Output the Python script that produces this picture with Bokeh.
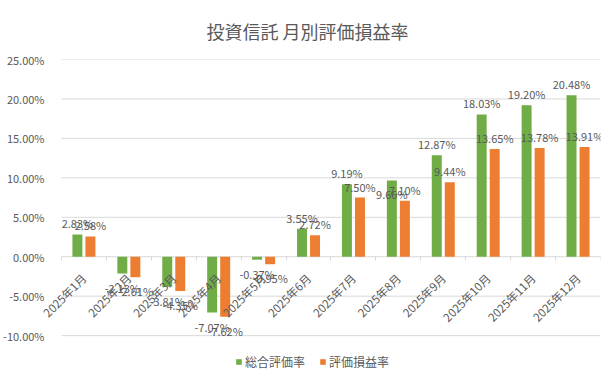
from math import pi
from bokeh.plotting import figure
from bokeh.models import (Range1d, FixedTicker, PrintfTickFormatter, ColumnDataSource,
                          Legend, LegendItem)
from bokeh.transform import dodge
from bokeh.embed import file_html
from bokeh.resources import INLINE

title_text = "投資信託 月別評価損益率"
months = ["2025年1月", "2025年2月", "2025年3月", "2025年4月", "2025年5月", "2025年6月",
          "2025年7月", "2025年8月", "2025年9月", "2025年10月", "2025年11月", "2025年12月"]
series_names = ["総合評価率", "評価損益率"]
total_rate = [2.83, -2.13, -3.81, -7.07, -0.37, 3.55, 9.19, 9.66, 12.87, 18.03, 19.20, 20.48]
gain_rate = [2.58, -2.61, -4.35, -7.62, -0.95, 2.72, 7.50, 7.10, 9.44, 13.65, 13.78, 13.91]
y_ticks = [-10, -5, 0, 5, 10, 15, 20, 25]

GREEN = "#70AD47"
ORANGE = "#ED7D31"
TXT = "#595959"
GRID = "#D9D9D9"
FONT = "Noto Sans CJK JP"

W, H = 615, 382
# layout in pixels
FRAME_L = 38
PLOT_L, PLOT_R, PLOT_T, PLOT_B = 60, 600, 58, 335
LABEL_R = 49
n = len(months)
cat_px = (PLOT_R - PLOT_L) / n
y_min, y_max = y_ticks[0], y_ticks[-1]
y_px = (PLOT_B - PLOT_T) / (y_max - y_min)

xs = [i + 0.5 for i in range(n)]
src = ColumnDataSource(dict(x=xs, month=months, total=total_rate, gain=gain_rate))

p = figure(width=W, height=H,
           x_range=Range1d(-(PLOT_L - FRAME_L) / cat_px, n),
           y_range=Range1d(y_min - (H - PLOT_B) / y_px, y_max),
           output_backend="svg", toolbar_location=None,
           min_border_left=FRAME_L, min_border_right=W - PLOT_R, min_border_top=PLOT_T,
           min_border_bottom=0)
p.outline_line_color = None
p.background_fill_color = "white"
p.border_fill_color = "white"
p.xgrid.visible = False
p.ygrid.visible = False

# title
p.title.text = title_text
p.title.align = "left"
p.title.offset = 205 - FRAME_L
p.title.standoff = 31
p.title.text_font = FONT
p.title.text_font_size = "18px"
p.title.text_font_style = "normal"
p.title.text_color = TXT

# horizontal gridlines across the plot area only
p.segment(x0=[0] * len(y_ticks), x1=[n] * len(y_ticks), y0=y_ticks, y1=y_ticks,
          line_color=GRID, line_width=1)

# y axis
p.yaxis.ticker = FixedTicker(ticks=y_ticks)
p.yaxis.formatter = PrintfTickFormatter(format="%.2f%%")
p.yaxis.axis_line_color = None
p.yaxis.major_tick_line_color = None
p.yaxis.minor_tick_line_color = None
p.yaxis.major_label_standoff = FRAME_L - LABEL_R
p.yaxis.major_label_text_font = FONT
p.yaxis.major_label_text_font_size = "11px"
p.yaxis.major_label_text_color = TXT

# x axis at zero
p.xaxis.fixed_location = 0
p.xaxis.ticker = FixedTicker(ticks=xs, minor_ticks=list(range(n + 1)))
p.xaxis.major_label_overrides = {x: m for x, m in zip(xs, months)}
p.xaxis.major_label_orientation = pi / 4
p.xaxis.axis_line_color = None
p.xaxis.major_tick_line_color = None
p.xaxis.minor_tick_line_color = GRID
p.xaxis.minor_tick_out = 4
p.xaxis.minor_tick_in = 0
p.xaxis.major_label_standoff = 13
p.xaxis.major_label_text_font = FONT
p.xaxis.major_label_text_font_size = "11.5px"
p.xaxis.major_label_text_color = TXT

OFF = 0.145
BW = 0.222
r1 = p.vbar(x=dodge("x", -OFF, range=p.x_range), top="total", width=BW, source=src,
            fill_color=GREEN, line_color=None)
r2 = p.vbar(x=dodge("x", OFF, range=p.x_range), top="gain", width=BW, source=src,
            fill_color=ORANGE, line_color=None)

# data labels
label_shift = {("総合評価率", "2025年8月"): 24}
for name, vals, off in [(series_names[0], total_rate, -OFF), (series_names[1], gain_rate, OFF)]:
    for sign in (1, -1):
        d = dict(x=[], y=[], t=[], dy=[])
        for x, m, v in zip(xs, months, vals):
            if (v >= 0) == (sign == 1):
                d["x"].append(x)
                d["y"].append(v)
                d["t"].append(f"{v:.2f}%")
                base = -3 if sign == 1 else 6
                d["dy"].append(base + label_shift.get((name, m), 0))
        ls = ColumnDataSource(d)
        p.text(x=dodge("x", off, range=p.x_range), y="y", text="t", y_offset="dy", source=ls,
               text_align="center", text_baseline="bottom" if sign == 1 else "top",
               text_font_size="11px", text_color=TXT, text_font={"value": FONT})

legend = Legend(items=[LegendItem(label=series_names[0], renderers=[r1]),
                       LegendItem(label=series_names[1], renderers=[r2])],
                orientation="horizontal", location=(234 - FRAME_L, 12),
                glyph_width=7, glyph_height=7, label_standoff=3, spacing=14,
                padding=0, margin=0, border_line_color=None, background_fill_alpha=0,
                label_text_font_size="12px", label_text_color=TXT, label_text_font=FONT)
p.add_layout(legend)

open("out.html", "w").write(file_html(p, INLINE))
